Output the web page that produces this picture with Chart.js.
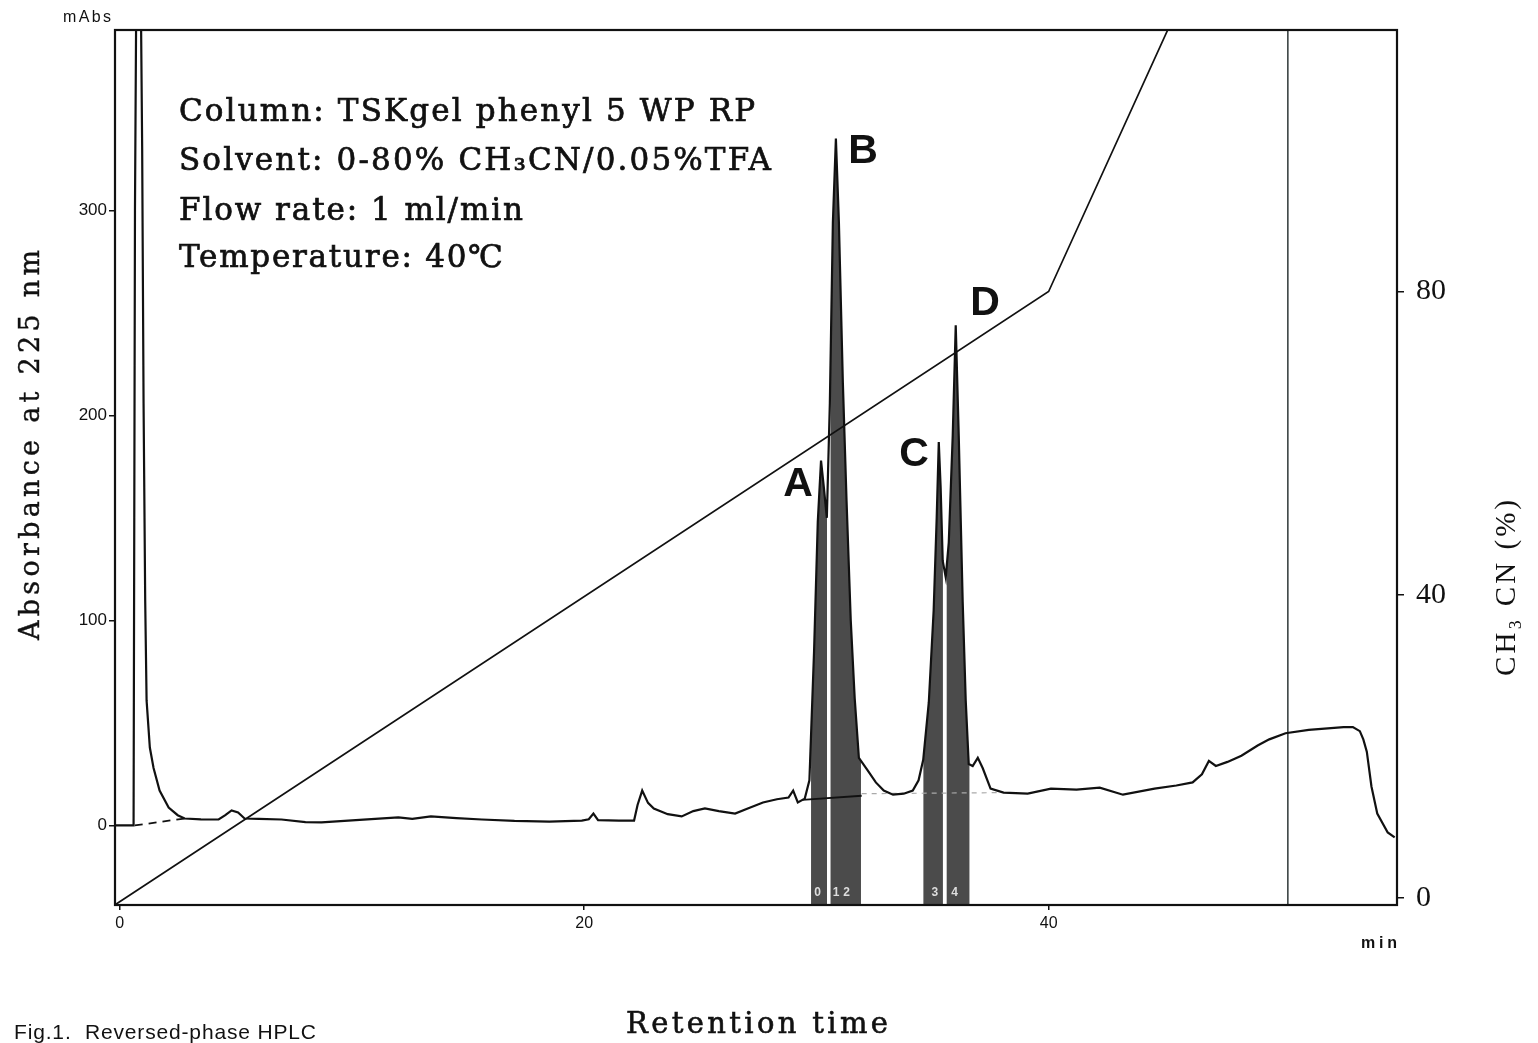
<!DOCTYPE html>
<html>
<head>
<meta charset="utf-8">
<title>Reversed-phase HPLC</title>
<script src="https://cdn.jsdelivr.net/npm/chart.js@4.4.0/dist/chart.umd.min.js"></script>
<style>
  body { margin: 0; background: #fff; }
  #wrap { width: 1538px; height: 1043px; }
</style>
</head>
<body>
<div id="wrap"><canvas id="hplc" width="1538" height="1043"></canvas></div>
<script>
// chromatogram: retention time (min) / absorbance (mAbs)
const traceTime = [-0.2, 0.6, 0.66, 0.75, 0.9, 0.97, 1.03, 1.1, 1.16, 1.3, 1.46, 1.72, 2.11, 2.5, 2.8, 3.5, 4.26, 4.55, 4.82, 5.1, 5.38, 6.0, 6.97, 8.0, 8.69, 10.5, 12.0, 12.6, 13.4, 14.5, 15.6, 17.0, 18.5, 19.9, 20.2, 20.4, 20.6, 21.5, 22.15, 22.3, 22.5, 22.75, 23.0, 23.6, 24.2, 24.7, 25.2, 25.8, 26.5, 27.1, 27.7, 28.3, 28.8, 29.0, 29.2, 29.5, 29.7, 29.9, 30.06, 30.2, 30.32, 30.45, 30.58, 30.71, 30.84, 30.97, 31.14, 31.3, 31.48, 31.65, 31.83, 32.2, 32.56, 32.9, 33.3, 33.76, 34.15, 34.4, 34.6, 34.84, 35.05, 35.18, 35.27, 35.35, 35.44, 35.57, 35.7, 35.87, 36.0, 36.13, 36.3, 36.43, 36.56, 36.73, 36.95, 37.16, 37.5, 38.06, 39.1, 40.1, 41.2, 42.2, 43.2, 44.56, 45.5, 46.2, 46.6, 46.9, 47.2, 47.7, 48.3, 49.0, 49.5, 50.2, 51.2, 52.7, 53.1, 53.4, 53.55, 53.7, 53.9, 54.15, 54.6, 54.9];
const traceAbs = [0, 0, 300, 470, 420, 330, 206, 110, 61, 38, 28, 17, 8.7, 5, 3.4, 3, 2.9, 5, 7.3, 6.3, 3.4, 3.2, 2.9, 1.6, 1.5, 2.8, 3.9, 3.2, 4.4, 3.6, 2.9, 2.2, 1.9, 2.4, 3, 5.8, 2.6, 2.4, 2.4, 10, 17, 11, 8.3, 5.5, 4.4, 7, 8.3, 7, 5.8, 8.5, 11.2, 12.8, 13.6, 17, 11.2, 13.1, 22, 85, 148, 178, 165, 150, 206, 294, 335, 294, 216, 158, 100, 62, 33, 27, 21, 17, 15, 15.5, 17, 22, 32, 60, 105, 150, 187, 165, 129, 121, 138, 190, 244, 190, 109, 61, 30, 29, 33, 28, 18, 16, 15.5, 18, 17.5, 18.4, 15, 18, 19.5, 21, 25, 31.5, 29, 31, 34, 39, 42, 45, 46.6, 48, 48, 46, 42, 36, 19, 5.8, -3.4, -5.8];

// CH3CN gradient (%)
const gradientTime = [-0.2, 40, 45.2];
const gradientPct = [-0.9, 80, 115];

// integrated peaks (shaded bands) and their numbers
const peakStart = [29.77, 30.6, 34.6, 35.6];
const peakEnd = [30.46, 31.92, 35.45, 36.6];
const peakLetters = ['A', 'B', 'C', 'D'];
const peakNoTime = [30.05, 30.85, 31.3, 35.1, 35.95];
const peakNoText = ['0', '1', '2', '3', '4'];

// baselines drawn by the integrator
const dashBaseTime = [0.65, 2.8];
const dashBaseAbs = [0, 3.4];
const solidBaseTime = [29.4, 31.95];
const solidBaseAbs = [12.5, 14.5];
const greyBaseTime = [31.95, 37.9];
const greyBaseAbs = [15.5, 16];

const markerTime = 50.3;

const timeTicks = [0, 20, 40];
const absTicks = [0, 100, 200, 300];
const pctTicks = [0, 40, 80];

const absMin = -38.8, absMax = 388;

function pts(xs, ys) { return xs.map((x, i) => ({ x: x, y: ys[i] })); }
const trace = pts(traceTime, traceAbs);

function valueAt(t) {
  for (let i = 1; i < traceTime.length; i++) {
    if (traceTime[i] >= t) {
      const t0 = traceTime[i - 1], t1 = traceTime[i];
      return traceAbs[i - 1] + (traceAbs[i] - traceAbs[i - 1]) * (t - t0) / (t1 - t0);
    }
  }
  return traceAbs[traceAbs.length - 1];
}
function peakSegment(a, b) {
  return [{ x: a, y: valueAt(a) }].concat(trace.filter(p => p.x > a && p.x < b), [{ x: b, y: valueAt(b) }]);
}

function line(data, opts) {
  return Object.assign({ data: data, pointRadius: 0, borderColor: '#111', borderWidth: 2, fill: false, yAxisID: 'y', order: 1 }, opts);
}

const datasets = [
  line(trace, { borderWidth: 2.2, order: 0 }),
  line(pts(gradientTime, gradientPct), { yAxisID: 'y2', borderWidth: 1.7 }),
  line(pts(dashBaseTime, dashBaseAbs), { borderDash: [8, 6], borderWidth: 1.8 }),
  line(pts(solidBaseTime, solidBaseAbs), { borderWidth: 1.8 }),
  line(pts(greyBaseTime, greyBaseAbs), { borderColor: '#aaa', borderDash: [5, 5], borderWidth: 1.2 }),
  line([{ x: markerTime, y: absMin }, { x: markerTime, y: absMax }], { borderColor: '#3c4444', borderWidth: 1.6 })
];
peakStart.forEach((a, i) => {
  datasets.push(line(peakSegment(a, peakEnd[i]), {
    borderWidth: 0, borderColor: 'rgba(0,0,0,0)', backgroundColor: '#4b4b4b', fill: 'start', order: 5
  }));
});

// text squeezed/stretched to the width it has in the figure
function drawFit(ctx, text, x, y, width, font, heavy) {
  ctx.save();
  ctx.font = font;
  ctx.fillStyle = '#111';
  ctx.strokeStyle = '#111';
  ctx.textAlign = 'left';
  ctx.textBaseline = 'middle';
  ctx.letterSpacing = '0px';
  const w = ctx.measureText(text).width;
  const n = [...text].length;
  ctx.letterSpacing = ((width - w) / Math.max(1, n - 1)) + 'px';
  ctx.fillText(text, x, y);
  if (heavy) {
    ctx.lineWidth = heavy;
    ctx.strokeText(text, x, y);
  }
  ctx.restore();
}

const paper = {
  id: 'paper',
  beforeDraw(chart) {
    const ctx = chart.ctx;
    ctx.save();
    ctx.fillStyle = '#fff';
    ctx.fillRect(0, 0, chart.width, chart.height);
    ctx.restore();
  },
  afterDraw(chart) {
    const ctx = chart.ctx, a = chart.chartArea, xs = chart.scales.x;
    ctx.save();
    ctx.strokeStyle = '#111';
    ctx.lineWidth = 2.2;
    ctx.strokeRect(a.left, a.top, a.right - a.left, a.bottom - a.top);
    ctx.restore();

    const serif = "'DejaVu Serif', serif";
    drawFit(ctx, 'Column: TSKgel phenyl 5 WP RP', 179, 113, 576, '31px ' + serif, 0.7);
    drawFit(ctx, 'Solvent: 0-80% CH\u2083CN/0.05%TFA', 179, 162, 592, '31px ' + serif, 0.7);
    drawFit(ctx, 'Flow rate: 1 ml/min', 179, 212, 344, '31px ' + serif, 0.7);
    drawFit(ctx, 'Temperature: 40\u2103', 179, 259, 324, '31px ' + serif, 0.7);

    const letterPos = [[798, 485], [863, 152], [914, 455], [985, 304]];
    ctx.save();
    ctx.font = "bold 41px 'Liberation Sans', Arial, sans-serif";
    ctx.fillStyle = '#111';
    ctx.textAlign = 'center';
    ctx.textBaseline = 'middle';
    peakLetters.forEach((s, i) => ctx.fillText(s, letterPos[i][0], letterPos[i][1]));
    ctx.font = "bold 12px 'Liberation Sans', sans-serif";
    ctx.fillStyle = '#ddd';
    peakNoText.forEach((s, i) => ctx.fillText(s, xs.getPixelForValue(peakNoTime[i]), a.bottom - 12));
    ctx.restore();

    drawFit(ctx, 'mAbs', 63, 18, 48, "16px 'Liberation Sans', sans-serif");
    drawFit(ctx, 'min', 1361, 944, 36, "bold 16px 'Liberation Sans', sans-serif");
    drawFit(ctx, 'Retention time', 626, 1025, 262, '29px ' + serif, 0.6);
    drawFit(ctx, 'Fig.1.  Reversed-phase HPLC', 14, 1033, 302, "21px 'Liberation Sans', Arial, sans-serif");

    ctx.save();
    ctx.translate(32, 445);
    ctx.rotate(-Math.PI / 2);
    drawFit(ctx, 'Absorbance at 225 nm', -195, 0, 390, '27px ' + serif, 0.4);
    ctx.restore();

    ctx.save();
    ctx.translate(1507, 588);
    ctx.rotate(-Math.PI / 2);
    drawFit(ctx, 'CH\u2083 CN (%)', -88, 0, 176, "29px 'Liberation Serif', serif");
    ctx.restore();
  }
};

new Chart(document.getElementById('hplc'), {
  type: 'line',
  data: { datasets: datasets },
  plugins: [paper],
  options: {
    responsive: false,
    animation: false,
    events: [],
    layout: { padding: { top: 25, left: 0, right: 0, bottom: 0 } },
    plugins: { legend: { display: false }, tooltip: { enabled: false } },
    scales: {
      x: {
        type: 'linear', min: -0.2, max: 55.0,
        afterBuildTicks: s => { s.ticks = timeTicks.map(v => ({ value: v })); },
        afterFit: s => { s.height = 138; },
        ticks: { color: '#111', padding: 4, maxRotation: 0, font: { family: "'Liberation Sans', sans-serif", size: 16 } },
        grid: { drawOnChartArea: false, tickLength: 5, color: '#111', lineWidth: 1.5 },
        border: { display: true, color: '#111', width: 2 }
      },
      y: {
        position: 'left', min: absMin, max: absMax,
        afterBuildTicks: s => { s.ticks = absTicks.map(v => ({ value: v })); },
        afterFit: s => { s.width = 115; },
        ticks: { color: '#111', padding: 2, font: { family: "'Liberation Sans', sans-serif", size: 17 } },
        grid: { drawOnChartArea: false, tickLength: 6, color: '#111', lineWidth: 1.5 },
        border: { display: true, color: '#111', width: 2 }
      },
      y2: {
        position: 'right', min: -0.92, max: 114.5,
        afterBuildTicks: s => { s.ticks = pctTicks.map(v => ({ value: v })); },
        afterFit: s => { s.width = 141; },
        ticks: { color: '#111', padding: 12, font: { family: "'Liberation Serif', serif", size: 30 } },
        grid: { drawOnChartArea: false, tickLength: 7, color: '#111', lineWidth: 1.5 },
        border: { display: true, color: '#111', width: 2 }
      }
    }
  }
});
</script>
</body>
</html>
